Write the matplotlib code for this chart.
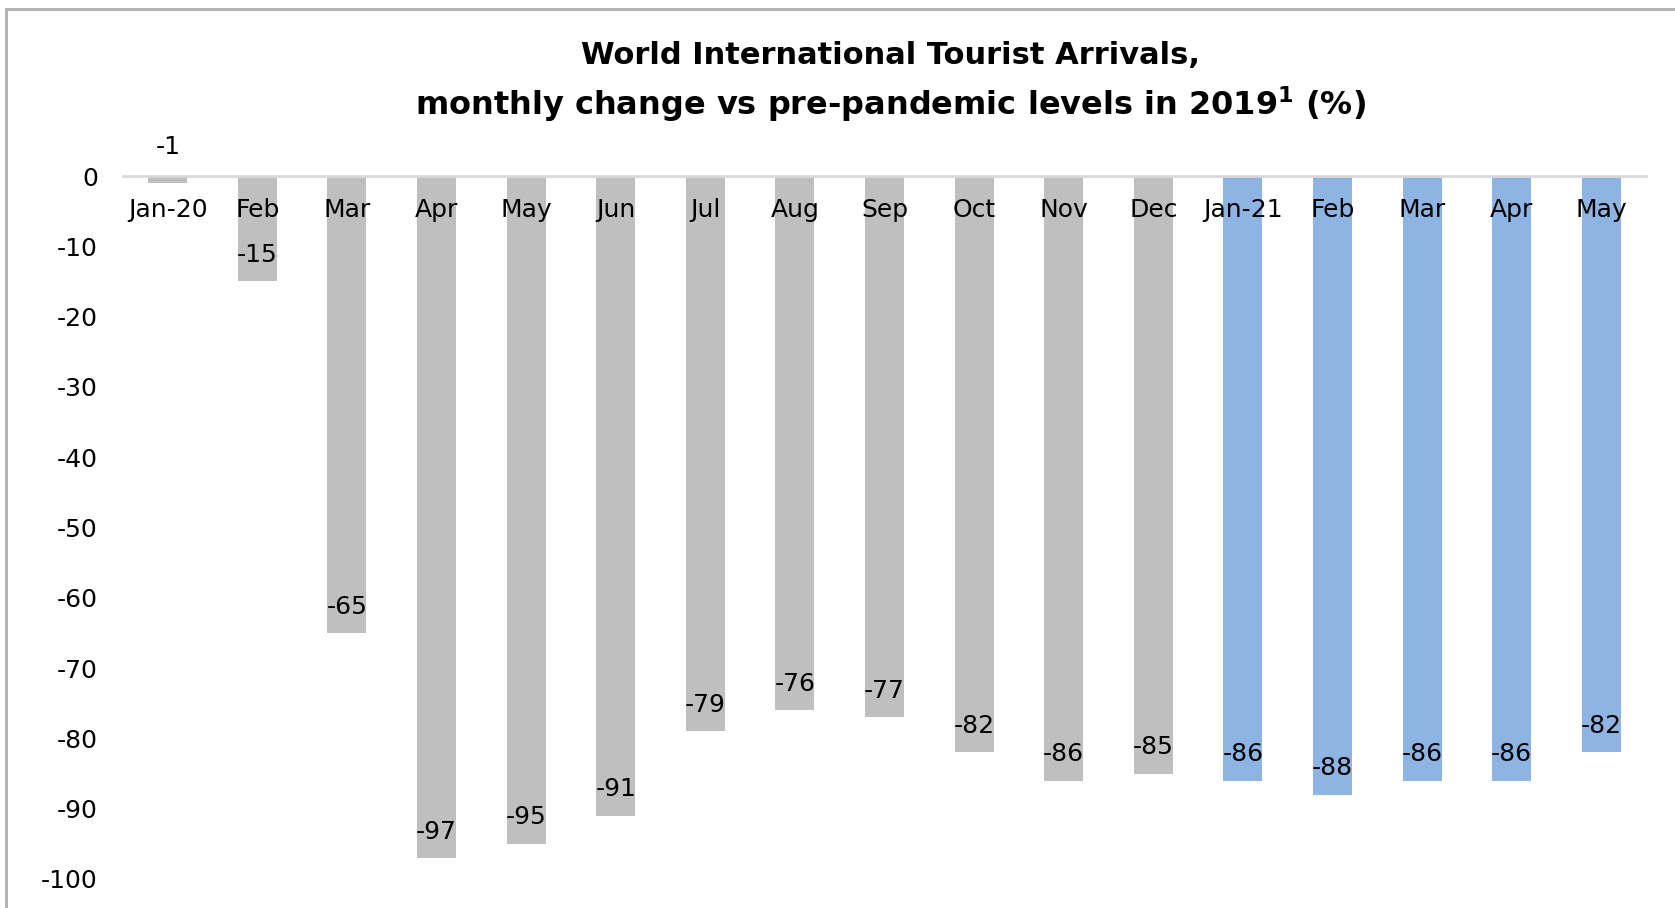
import matplotlib
matplotlib.use("Agg")
import matplotlib.pyplot as plt
from matplotlib.patches import Rectangle

months = ["Jan-20", "Feb", "Mar", "Apr", "May", "Jun", "Jul", "Aug", "Sep",
          "Oct", "Nov", "Dec", "Jan-21", "Feb", "Mar", "Apr", "May"]
change = [-1, -15, -65, -97, -95, -91, -79, -76, -77, -82, -86, -85,
          -86, -88, -86, -86, -82]
year = [2020] * 12 + [2021] * 5

GREY = "#bfbfbf"
BLUE = "#8eb4e3"

plt.rcParams['font.family'] = ['DejaVu Sans']
plt.rcParams['mathtext.default'] = 'regular'
plt.rcParams['axes.unicode_minus'] = False

fig = plt.figure(figsize=(16.75, 9.08), dpi=100)
W, H = 1675, 908
ax = fig.add_axes([123 / W, 1 - 879 / H, (1646 - 123) / W, (879 - 176) / H])

x = list(range(len(months)))
colors = [GREY if y == 2020 else BLUE for y in year]
bars = ax.bar(x, change, width=0.435, color=colors, zorder=1)

ax.set_xlim(-0.5, len(months) - 0.5)
ax.set_ylim(-100, 0)
ax.set_yticks(range(-100, 1, 10))
ax.tick_params(axis='y', length=0, labelsize=18, pad=18)
for s in ["top", "right", "left"]:
    ax.spines[s].set_visible(False)
ax.spines['bottom'].set_position(('data', 0))
ax.spines['bottom'].set_color("#d9d9d9")
ax.spines['bottom'].set_linewidth(2)
ax.spines['bottom'].set_zorder(3)
ax.set_xticks(x)
ax.set_xticklabels(months)
ax.tick_params(axis='x', length=0, labelsize=18, pad=16)
ax.xaxis.set_zorder(4)

# data labels: inside end, or above the axis when the bar is too short
for xi, v in zip(x, change):
    if v > -5:
        ax.annotate(str(v), (xi, 0), xytext=(0, 21), textcoords='offset points',
                    ha='center', va='center', fontsize=18, annotation_clip=False)
    else:
        ax.annotate(str(v), (xi, v), xytext=(0, 19), textcoords='offset points',
                    ha='center', va='center', fontsize=18, zorder=4)

fig.text(890 / W, 1 - 56 / H, "World International Tourist Arrivals,",
         ha='center', va='center', fontsize=22, fontweight='bold')
fig.text(890 / W, 1 - 104 / H, "monthly change vs pre-pandemic levels in 2019$^{1}$ (%)",
         ha='center', va='center', fontsize=23, fontweight='bold')

fig.patches.append(Rectangle((6 / W, -0.1), 1.2, 1.1 - 9 / H, transform=fig.transFigure,
                             fill=False, edgecolor="#b0b0b0", linewidth=2))

fig.savefig("out.png", dpi=100)
